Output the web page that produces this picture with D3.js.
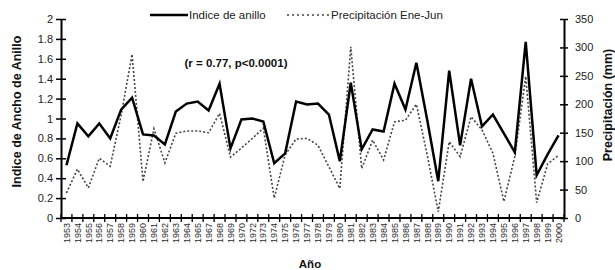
<!DOCTYPE html>
<html>
<head>
<meta charset="utf-8">
<script src="https://cdn.jsdelivr.net/npm/d3@7"></script>
<style>
body { margin: 0; background: #fff; }
svg { display: block; font-family: "Liberation Sans", Arial, sans-serif; }
</style>
</head>
<body>
<svg id="chart" width="615" height="270"></svg>
<script>
var years = [1953, 1954, 1955, 1956, 1957, 1958, 1959, 1960, 1961, 1962, 1963, 1964, 1965,
    1967, 1968, 1969, 1970, 1972, 1973, 1974, 1975, 1976, 1977, 1978, 1979, 1980, 1981,
    1982, 1983, 1984, 1985, 1986, 1987, 1988, 1989, 1990, 1991, 1992, 1993, 1994, 1995,
    1996, 1997, 1998, 1999, 2000];
var indiceAnillo = [0.53, 0.95, 0.82, 0.95, 0.80, 1.09, 1.21, 0.84, 0.83, 0.74, 1.07, 1.15, 1.17,
    1.08, 1.35, 0.70, 0.99, 1.00, 0.97, 0.55, 0.65, 1.17, 1.14, 1.15, 1.04, 0.57, 1.36,
    0.69, 0.89, 0.87, 1.35, 1.09, 1.56, 0.98, 0.37, 1.48, 0.73, 1.40, 0.92, 1.04, 0.85,
    0.66, 1.77, 0.43, 0.64, 0.83];
var precipitacion = [44, 86, 53, 105, 91, 181, 288, 64, 157, 97, 149, 153, 153,
    150, 184, 107, 123, 140, 158, 35, 111, 139, 140, 128, 90, 52, 301,
    87, 137, 102, 169, 172, 200, 110, 11, 134, 108, 178, 155, 114, 29,
    108, 249, 27, 95, 110];
var leftTicks = [0, 0.2, 0.4, 0.6, 0.8, 1, 1.2, 1.4, 1.6, 1.8, 2];
var rightTicks = [0, 50, 100, 150, 200, 250, 300, 350];

var plotLeft = 61, plotRight = 564, plotTop = 19, plotBottom = 218;
var svg = d3.select('#chart');

var xScale = d3.scaleBand().domain(years).range([plotLeft, plotRight]);
var yLeft = d3.scaleLinear().domain([0, 2]).range([plotBottom, plotTop]);
var yRight = d3.scaleLinear().domain([0, 350]).range([plotBottom, plotTop]);

function xc(d, i) {
    return xScale(years[i]) + xScale.bandwidth() / 2;
}

/* Axes */
var leftAxis = d3.axisLeft(yLeft)
    .tickValues(leftTicks)
    .tickFormat(function(d) { return d; })
    .tickSizeOuter(0);
var gl = svg.append('g')
    .attr('transform', 'translate(' + plotLeft + ',0)')
    .call(leftAxis);
gl.selectAll('.tick line').attr('x1', -5).attr('x2', 5);
gl.selectAll('.tick text').attr('x', -8);

var rightAxis = d3.axisRight(yRight)
    .tickValues(rightTicks)
    .tickSizeOuter(0);
var gr = svg.append('g')
    .attr('transform', 'translate(' + plotRight + ',0)')
    .call(rightAxis);
gr.selectAll('.tick line').attr('x1', -4).attr('x2', 4);
gr.selectAll('.tick text').attr('x', 11);

[gl, gr].forEach(function(g) {
    g.select('.domain').attr('stroke', '#000').attr('stroke-width', 2);
    g.selectAll('.tick line').attr('stroke', '#000').attr('stroke-width', 1.5);
    g.selectAll('.tick text')
        .attr('fill', '#222')
        .style('font-size', '11px')
        .style('font-family', '"Liberation Sans", Arial, sans-serif');
});

// bottom axis: line, boundary ticks, rotated year labels
svg.append('line')
    .attr('x1', plotLeft).attr('x2', plotRight)
    .attr('y1', plotBottom).attr('y2', plotBottom)
    .attr('stroke', '#000').attr('stroke-width', 2);

svg.append('g').selectAll('line')
    .data(years.concat(['end']))
    .join('line')
    .attr('x1', function(d) { return d === 'end' ? plotRight : xScale(d); })
    .attr('x2', function(d) { return d === 'end' ? plotRight : xScale(d); })
    .attr('y1', plotBottom - 4)
    .attr('y2', plotBottom + 4)
    .attr('stroke', '#000')
    .attr('stroke-width', 1.3);

svg.append('g').selectAll('text')
    .data(years)
    .join('text')
    .attr('transform', function(d, i) {
        return 'translate(' + (xc(d, i) + 3.2) + ',' + (plotBottom + 5) + ') rotate(-90)';
    })
    .attr('text-anchor', 'end')
    .attr('fill', '#2a2a2a')
    .style('font-size', '9px')
    .text(function(d) { return d; });

/* Lines */
var precipLine = d3.line()
    .x(xc)
    .y(function(d) { return yRight(d); });
var indiceLine = d3.line()
    .x(xc)
    .y(function(d) { return yLeft(d); });

svg.append('path')
    .attr('d', precipLine(precipitacion))
    .attr('fill', 'none')
    .attr('stroke', '#444')
    .attr('stroke-width', 1.6)
    .attr('stroke-dasharray', '2,2');

svg.append('path')
    .attr('d', indiceLine(indiceAnillo))
    .attr('fill', 'none')
    .attr('stroke', '#000')
    .attr('stroke-width', 2.5)
    .attr('stroke-linejoin', 'miter');

/* Legend */
svg.append('line')
    .attr('x1', 150).attr('x2', 188).attr('y1', 15).attr('y2', 15)
    .attr('stroke', '#000').attr('stroke-width', 2.5);
svg.append('text')
    .attr('x', 189).attr('y', 19)
    .style('font-size', '11.5px').attr('fill', '#222')
    .text('Indice de anillo');
svg.append('line')
    .attr('x1', 287).attr('x2', 329).attr('y1', 15).attr('y2', 15)
    .attr('stroke', '#444').attr('stroke-width', 1.3)
    .attr('stroke-dasharray', '2,3');
svg.append('text')
    .attr('x', 331).attr('y', 19)
    .style('font-size', '11.5px').attr('fill', '#222')
    .text('Precipitación Ene-Jun');

svg.append('text')
    .attr('x', 236).attr('y', 67)
    .attr('text-anchor', 'middle')
    .style('font-size', '11.5px').style('font-weight', 'bold').attr('fill', '#111')
    .text('(r = 0.77, p<0.0001)');

/* Axis titles */
svg.append('text')
    .attr('transform', 'translate(21,' + ((plotTop + plotBottom) / 2 - 7) + ') rotate(-90)')
    .attr('text-anchor', 'middle')
    .style('font-size', '12.5px').style('font-weight', 'bold').attr('fill', '#111')
    .text('Indice de Ancho de Anillo');
svg.append('text')
    .attr('transform', 'translate(612,105) rotate(-90)')
    .attr('text-anchor', 'middle')
    .style('font-size', '12.5px').style('font-weight', 'bold').attr('fill', '#111')
    .text('Precipitación (mm)');
svg.append('text')
    .attr('x', 310).attr('y', 268)
    .attr('text-anchor', 'middle')
    .style('font-size', '11.5px').style('font-weight', 'bold').attr('fill', '#111')
    .text('Año');
</script>
</body>
</html>
